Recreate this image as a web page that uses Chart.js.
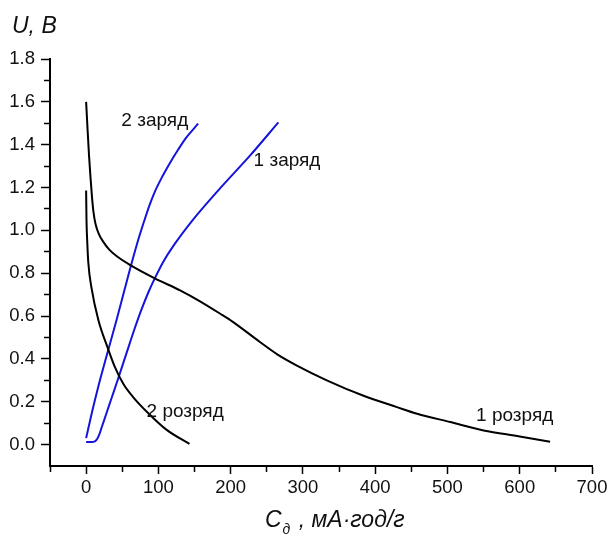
<!DOCTYPE html>
<html><head><meta charset="utf-8">
<script src="https://cdn.jsdelivr.net/npm/chart.js@4/dist/chart.umd.min.js"></script>
<style>html,body{margin:0;padding:0;background:#fff}#wrap{width:612px;height:534px}</style>
</head><body><div id="wrap"><canvas id="c" width="612" height="534"></canvas></div>
<script>
// ---- data (capacity in mA·h/g, voltage in V) ----
const discharge1X = [0, 2, 4, 6, 8, 10, 13, 18, 24, 32, 42, 60, 95, 130, 157, 185, 203, 240, 265, 291, 333, 383, 430, 458, 504, 550, 600, 642];
const discharge1U = [1.60, 1.47, 1.35, 1.25, 1.16, 1.09, 1.03, 0.98, 0.945, 0.91, 0.88, 0.84, 0.776, 0.72, 0.67, 0.612, 0.573, 0.48, 0.42, 0.37, 0.30, 0.229, 0.175, 0.144, 0.105, 0.066, 0.038, 0.013];
const discharge2X = [0, 0.5, 1.5, 3, 7.5, 17, 30, 40, 52, 65, 85, 111, 143];
const discharge2U = [1.186, 1.05, 0.95, 0.85, 0.73, 0.58, 0.45, 0.36, 0.28, 0.222, 0.15, 0.07, 0.003];
const charge1X = [0, 8, 12, 15, 18, 21, 24, 28, 35, 44, 56, 66, 76, 86, 95, 107, 120, 148, 185, 227, 266];
const charge1U = [0.012, 0.012, 0.015, 0.025, 0.045, 0.075, 0.105, 0.145, 0.215, 0.305, 0.428, 0.53, 0.625, 0.71, 0.776, 0.855, 0.924, 1.05, 1.195, 1.35, 1.504];
const charge2X = [0, 8, 16, 28, 42, 60, 72, 80, 88, 95, 106, 116, 127, 139, 155];
const charge2U = [0.03, 0.15, 0.26, 0.41, 0.58, 0.81, 0.955, 1.04, 1.12, 1.18, 1.255, 1.315, 1.375, 1.435, 1.498];

const seriesNames = ['1 розряд', '2 розряд', '1 заряд', '2 заряд'];
const xTicks = [0, 100, 200, 300, 400, 500, 600, 700];
const xMinorTicks = [-50, 50, 150, 250, 350, 450, 550, 650];
const yTicks = [0, 0.2, 0.4, 0.6, 0.8, 1.0, 1.2, 1.4, 1.6, 1.8];
const yMinorTicks = [0.1, 0.3, 0.5, 0.7, 0.9, 1.1, 1.3, 1.5, 1.7];
// annotation labels anchored in data coordinates
const labelText = ['2 заряд', '1 заряд', '2 розряд', '1 розряд'];
const labelX = [95, 278, 137, 593];
const labelU = [1.51, 1.325, 0.155, 0.134];

const pts = (xs, us) => xs.map((x, i) => ({x, y: us[i]}));
const BLUE = '#1414dc';
const FONT = '"Liberation Sans", Arial, sans-serif';

const textPlugin = {
  id: 'texts',
  afterDraw(chart) {
    const ctx = chart.ctx, sx = chart.scales.x, sy = chart.scales.y;
    ctx.save();
    ctx.fillStyle = '#111';
    ctx.font = '19px ' + FONT;
    ctx.textAlign = 'center';
    ctx.textBaseline = 'middle';
    labelText.forEach((t, i) => ctx.fillText(t, sx.getPixelForValue(labelX[i]), sy.getPixelForValue(labelU[i])));
    // y title
    ctx.textAlign = 'left';
    ctx.textBaseline = 'alphabetic';
    ctx.font = 'italic 23px ' + FONT;
    ctx.fillText('U, B', 12, 33);
    // x title with subscript
    let x = 265;
    const base = 527;
    ctx.font = 'italic 23px ' + FONT;
    ctx.fillText('C', x, base);
    x += ctx.measureText('C').width + 1;
    ctx.font = 'italic 14px ' + FONT;
    ctx.fillText('д', x, base + 7);
    x += ctx.measureText('д').width + 2;
    ctx.font = 'italic 23px ' + FONT;
    ctx.fillText(' , мА·год/г', x, base);
    ctx.restore();
  }
};

const mkLine = (label, xs, us, color) => ({
  label, data: pts(xs, us), borderColor: color, backgroundColor: color,
  borderWidth: 2, pointRadius: 0, fill: false, cubicInterpolationMode: 'monotone',
  xAxisID: 'x', yAxisID: 'y'
});

new Chart(document.getElementById('c'), {
  type: 'line',
  data: {
    datasets: [
      mkLine(seriesNames[0], discharge1X, discharge1U, '#000'),
      mkLine(seriesNames[1], discharge2X, discharge2U, '#000'),
      mkLine(seriesNames[2], charge1X, charge1U, BLUE),
      mkLine(seriesNames[3], charge2X, charge2U, BLUE)
    ]
  },
  options: {
    responsive: false,
    animation: false,
    devicePixelRatio: 1,
    layout: {padding: {left: 0, top: 59, right: 20, bottom: 0}},
    plugins: {legend: {display: false}, tooltip: {enabled: false}},
    scales: {
      x: {
        type: 'linear', position: 'bottom', min: -50, max: 700,
        afterBuildTicks: s => { s.ticks = xTicks.map(v => ({value: v})); },
        afterFit: s => { s.height = 68; },
        ticks: {color: '#111', font: {family: FONT, size: 18.5}, padding: 3, callback: v => String(v), maxRotation: 0, autoSkip: false},
        grid: {drawOnChartArea: false, drawTicks: true, tickLength: 8, tickWidth: 1.5, tickColor: '#000'},
        border: {display: true, color: '#000', width: 2}
      },
      x2: {
        type: 'linear', axis: 'x', position: {y: -0.1}, min: -50, max: 700,
        afterBuildTicks: s => { s.ticks = xMinorTicks.map(v => ({value: v})); },
        ticks: {display: false},
        grid: {drawOnChartArea: false, drawTicks: true, tickLength: 6, tickWidth: 1.5, tickColor: '#000'},
        border: {display: false}
      },
      y: {
        type: 'linear', position: 'left', min: -0.1, max: 1.8,
        afterBuildTicks: s => { s.ticks = yTicks.map(v => ({value: v})); },
        afterFit: s => { s.width = 50; },
        ticks: {color: '#111', font: {family: FONT, size: 18.5}, padding: 6, callback: v => v.toFixed(1), autoSkip: false},
        grid: {drawOnChartArea: false, drawTicks: true, tickLength: 9, tickWidth: 1.5, tickColor: '#000'},
        border: {display: true, color: '#000', width: 2}
      },
      y2: {
        type: 'linear', axis: 'y', position: {x: -50}, min: -0.1, max: 1.8,
        afterBuildTicks: s => { s.ticks = yMinorTicks.map(v => ({value: v})); },
        ticks: {display: false},
        grid: {drawOnChartArea: false, drawTicks: true, tickLength: 6, tickWidth: 1.5, tickColor: '#000'},
        border: {display: false}
      }
    }
  },
  plugins: [textPlugin]
});
</script></body></html>
